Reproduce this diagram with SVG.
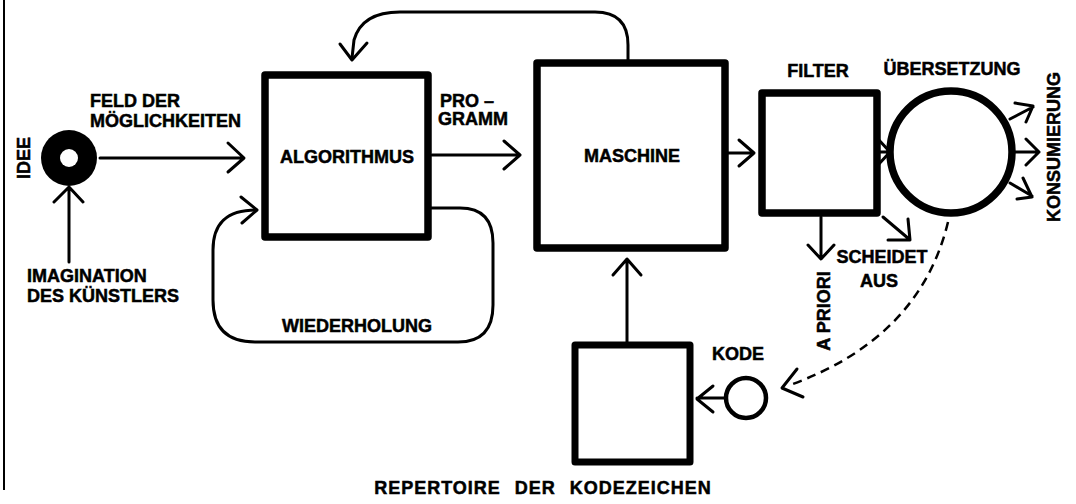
<svg xmlns="http://www.w3.org/2000/svg" width="1076" height="504" viewBox="0 0 1076 504">
<style>
  text { font-family: "Liberation Sans", Arial, sans-serif; font-weight: bold; font-size: 18px; fill: #000; stroke: #000; stroke-width: 0.5; }
  .mid { text-anchor: middle; }
  .box { fill: #fff; stroke: #000; stroke-width: 7.5; stroke-linejoin: round; }
  .ln { fill: none; stroke: #000; stroke-width: 3; stroke-linecap: round; stroke-linejoin: round; }
  .dash { fill: none; stroke: #000; stroke-width: 2.5; stroke-dasharray: 9 6; }
</style>
<rect width="1076" height="504" fill="#fff"/>
<line x1="4" y1="0" x2="4" y2="490" stroke="#000" stroke-width="2"/>

<g id="connectors">
  <!-- Idee -> Algorithmus -->
  <path class="ln" d="M100 158 H243 M228 143 L244 158 L228 172"/>
  <!-- Imagination -> Idee -->
  <path class="ln" d="M69 262 V188 M54 202 L69 187 L83 202"/>
  <!-- Wiederholung loop -->
  <path class="ln" d="M430 208 H460 Q493 208 493 243 V305 Q493 342 458 342 H255 Q213 342 213 300 V250 C213 225 225 210 256 210"/>
  <path class="ln" d="M241 197 L257 210 L242 223"/>
  <!-- Maschine top loop back to Algorithmus -->
  <path class="ln" d="M628 62 V45 Q628 12 595 12 H400 Q362 12 354 40 L352 58"/>
  <path class="ln" d="M340 44 L352 60 L367 43"/>
  <!-- Programm -->
  <path class="ln" d="M432 155 H520 M504 141 L520 155 L504 169"/>
  <!-- Maschine -> Filter -->
  <path class="ln" d="M728 153 H754 M739 140 L754 153 L739 166"/>
  <!-- Filter -> Uebersetzung -->
  <path class="ln" d="M878 152 H890 M878 139 L890 152 L878 165"/>
  <!-- Konsumierung outputs -->
  <path class="ln" d="M1010 119 L1033 107 M1015 103 L1033 106 L1026 122"/>
  <path class="ln" d="M1014 152 H1039 M1026 139 L1039 152 L1026 165"/>
  <path class="ln" d="M1010 183 L1032 196 M1023 178 L1032 197 L1017 199"/>
  <!-- A priori -->
  <path class="ln" d="M821 217 V258 M808 245 L821 259 L834 245"/>
  <!-- scheidet aus -->
  <path class="ln" d="M883 217 L909 239 M908 219 L910 240 L888 240"/>
  <!-- dashed feedback -->
  <path class="dash" d="M948 222 Q920 338 790 385"/>
  <path class="ln" d="M797 369 L782 388 L803 397"/>
  <!-- Kode -> Repertoire -->
  <path class="ln" d="M726 398 H697 M713 386 L697 399 L713 412"/>
  <!-- Repertoire -> Maschine -->
  <path class="ln" d="M627 345 V260 M613 275 L627 259 L641 275"/>
</g>

<g id="idee">
  <circle cx="69" cy="158" r="28" fill="#000"/>
  <circle cx="69" cy="158" r="9" fill="#fff"/>
  <text class="mid" transform="translate(30 158) rotate(-90)">IDEE</text>
</g>
<g id="imagination">
  <text x="27" y="282">IMAGINATION</text>
  <text x="27" y="302">DES KÜNSTLERS</text>
</g>
<g id="feld">
  <text x="90" y="107">FELD DER</text>
  <text x="90" y="127">MÖGLICHKEITEN</text>
</g>
<g id="algorithmus">
  <rect class="box" x="265" y="75" width="163" height="162"/>
  <text class="mid" x="347" y="163">ALGORITHMUS</text>
</g>
<g id="programm">
  <text x="440" y="107">PRO –</text>
  <text x="438" y="125">GRAMM</text>
</g>
<g id="wiederholung">
  <text class="mid" x="357" y="332">WIEDERHOLUNG</text>
</g>
<g id="maschine">
  <rect class="box" x="537" y="63" width="188" height="185"/>
  <text class="mid" x="632" y="162">MASCHINE</text>
</g>
<g id="filter">
  <rect class="box" x="762" y="93" width="115" height="120"/>
  <text class="mid" x="818" y="77">FILTER</text>
</g>
<g id="uebersetzung">
  <circle cx="951" cy="152" r="61" fill="#fff" stroke="#000" stroke-width="7.5"/>
  <text class="mid" x="952" y="75">ÜBERSETZUNG</text>
</g>
<g id="konsumierung">
  <text class="mid" transform="translate(1060 147) rotate(-90)">KONSUMIERUNG</text>
</g>
<g id="apriori">
  <text class="mid" transform="translate(830 311) rotate(-90)">A PRIORI</text>
</g>
<g id="scheidet">
  <text class="mid" x="882" y="263">SCHEIDET</text>
  <text class="mid" x="879" y="287">AUS</text>
</g>
<g id="kode">
  <circle cx="746" cy="398" r="20" fill="#fff" stroke="#000" stroke-width="4.5"/>
  <text class="mid" x="738" y="360">KODE</text>
</g>
<g id="repertoire">
  <rect x="575" y="345" width="115" height="117" fill="#fff" stroke="#000" stroke-width="7" stroke-linejoin="round"/>
  <text class="mid" x="543" y="494" letter-spacing="1" word-spacing="8">REPERTOIRE DER KODEZEICHEN</text>
</g>
</svg>
